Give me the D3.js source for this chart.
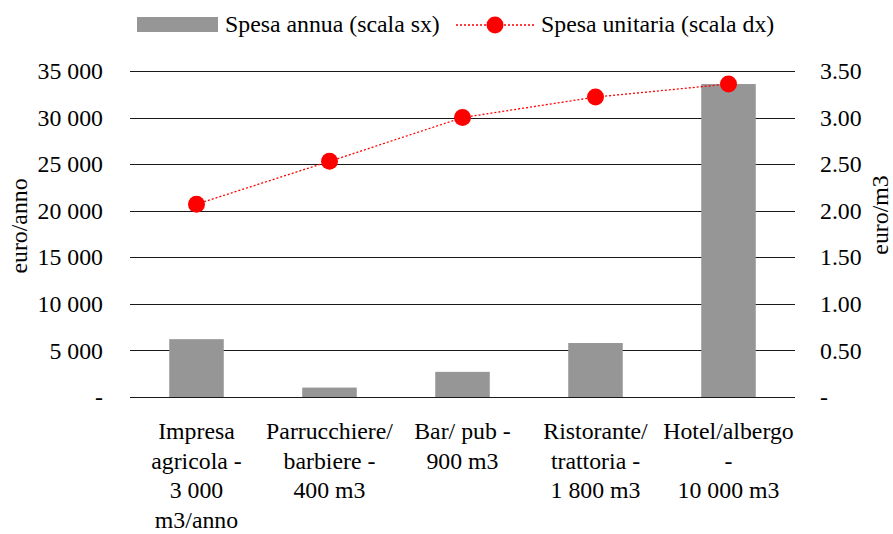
<!DOCTYPE html>
<html>
<head>
<meta charset="utf-8">
<script src="https://cdn.jsdelivr.net/npm/d3@7"></script>
<style>
  body { margin: 0; background: #fff; }
</style>
</head>
<body>
<svg id="chart"></svg>
<script>
// dati
const categories = ["Impresa agricola", "Parrucchiere/barbiere", "Bar/pub", "Ristorante/trattoria", "Hotel/albergo"];
const categoryLines = [
  ["Impresa", "agricola -", "3 000", "m3/anno"],
  ["Parrucchiere/", "barbiere -", "400 m3"],
  ["Bar/ pub -", "900 m3"],
  ["Ristorante/", "trattoria -", "1 800 m3"],
  ["Hotel/albergo", "-", "10 000 m3"]
];
const spesaAnnua = [6210, 1012, 2700, 5796, 33600];
const spesaUnitaria = [2.07, 2.53, 3.00, 3.22, 3.36];
const leftTicks = [0, 5000, 10000, 15000, 20000, 25000, 30000, 35000];
const rightTicks = [0, 0.5, 1, 1.5, 2, 2.5, 3, 3.5];

const FONT = "Liberation Serif";
const FS = "23.8px";
const width = 893, height = 534;
const margin = { top: 71, right: 98, bottom: 137, left: 130 };
const svg = d3.select("#chart").attr("width", width).attr("height", height)
  .style("font-family", FONT);

const x = d3.scaleBand()
  .domain(categories)
  .range([margin.left, width - margin.right])
  .paddingInner(0.59)
  .paddingOuter(0.295);

// banda completa per le etichette
const xb = d3.scaleBand().domain(categories).range([margin.left, width - margin.right]);

const yL = d3.scaleLinear().domain([0, 35000]).range([height - margin.bottom, margin.top]);
const yR = d3.scaleLinear().domain([0, 3.5]).range([height - margin.bottom, margin.top]);

const fmtL = v => v === 0 ? "-" : d3.format(",")(v).replace(/,/g, " ");
const fmtR = v => v === 0 ? "-" : d3.format(".2f")(v);

// griglia
svg.append("g")
  .selectAll("line")
  .data(leftTicks)
  .join("line")
  .attr("x1", margin.left)
  .attr("x2", width - margin.right)
  .attr("y1", d => Math.round(yL(d)) + 0.5)
  .attr("y2", d => Math.round(yL(d)) + 0.5)
  .attr("stroke", "#1a1a1a")
  .attr("stroke-width", 1);

// assi
const axisL = svg.append("g")
  .attr("transform", `translate(${margin.left - 27},0)`)
  .call(d3.axisLeft(yL).tickValues(leftTicks).tickFormat(fmtL).tickSize(0).tickPadding(0));
const axisR = svg.append("g")
  .attr("transform", `translate(${width - margin.right + 25},0)`)
  .call(d3.axisRight(yR).tickValues(rightTicks).tickFormat(fmtR).tickSize(0).tickPadding(0));
[axisL, axisR].forEach(a => {
  a.attr("font-family", null).attr("font-size", null);
  a.select(".domain").remove();
  a.selectAll("text")
    .style("font-family", FONT)
    .style("font-size", FS)
    .attr("fill", "#000");
});

// titoli assi
svg.append("text")
  .attr("transform", `translate(27,226) rotate(-90)`)
  .attr("text-anchor", "middle")
  .style("font-family", FONT)
  .style("font-size", FS)
  .text("euro/anno");
svg.append("text")
  .attr("transform", `translate(888,215) rotate(-90)`)
  .attr("text-anchor", "middle")
  .style("font-family", FONT)
  .style("font-size", FS)
  .text("euro/m3");

// barre
svg.append("g")
  .selectAll("rect")
  .data(categories)
  .join("rect")
  .attr("x", d => x(d))
  .attr("width", x.bandwidth())
  .attr("y", (d, i) => yL(spesaAnnua[i]))
  .attr("height", (d, i) => yL(0) - yL(spesaAnnua[i]))
  .attr("fill", "#969696");

// linea
const cx = d => xb(d) + xb.bandwidth() / 2;
svg.append("path")
  .datum(categories)
  .attr("fill", "none")
  .attr("stroke", "#ff0000")
  .attr("stroke-width", 1.3)
  .attr("stroke-dasharray", "2,2")
  .attr("d", d3.line().x(d => cx(d)).y((d, i) => yR(spesaUnitaria[i])));

svg.append("g")
  .selectAll("circle")
  .data(categories)
  .join("circle")
  .attr("cx", d => cx(d))
  .attr("cy", (d, i) => yR(spesaUnitaria[i]))
  .attr("r", 8.5)
  .attr("fill", "#ff0000");

// etichette categorie
const lab = svg.append("g")
  .selectAll("text")
  .data(categories)
  .join("text")
  .attr("text-anchor", "middle")
  .style("font-family", FONT)
  .style("font-size", FS)
  .attr("fill", "#000");
lab.each(function(d, i) {
  d3.select(this).selectAll("tspan")
    .data(categoryLines[i])
    .join("tspan")
    .attr("x", cx(d))
    .attr("y", (t, j) => 439 + j * 29.7)
    .text(t => t);
});

// legenda
const lg = svg.append("g").style("font-family", FONT).style("font-size", FS);
lg.append("rect").attr("x", 137).attr("y", 17).attr("width", 81).attr("height", 15).attr("fill", "#969696");
lg.append("text").attr("x", 225).attr("y", 32).text("Spesa annua (scala sx)");
lg.append("line").attr("x1", 456).attr("x2", 534).attr("y1", 25).attr("y2", 25)
  .attr("stroke", "#ff0000").attr("stroke-width", 1.3).attr("stroke-dasharray", "2,2");
lg.append("circle").attr("cx", 495).attr("cy", 25).attr("r", 8.5).attr("fill", "#ff0000");
lg.append("text").attr("x", 541).attr("y", 32).text("Spesa unitaria (scala dx)");
</script>
</body>
</html>
